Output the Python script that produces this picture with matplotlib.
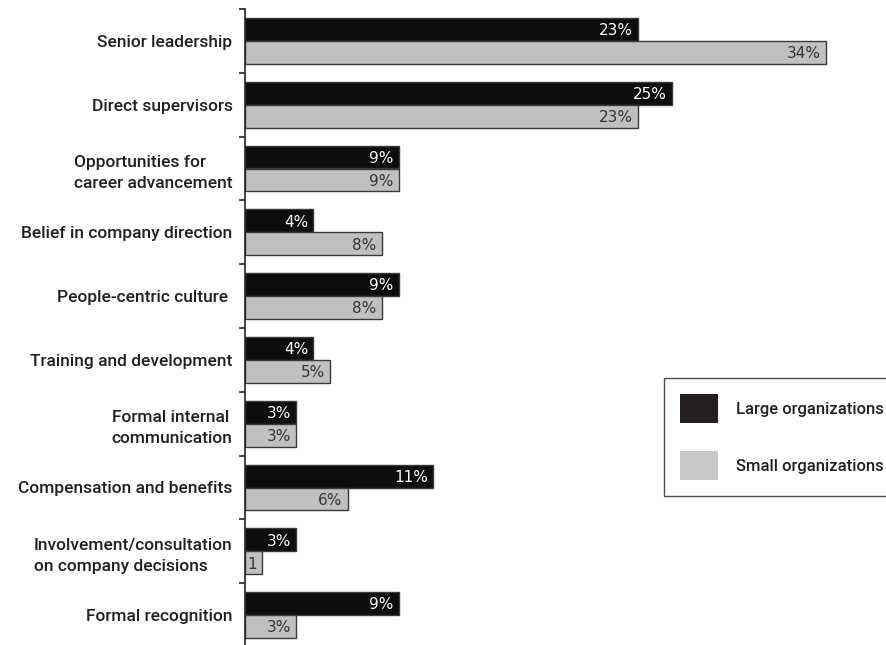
import matplotlib
matplotlib.use("Agg")
import matplotlib.pyplot as plt
from matplotlib.patches import Patch
from matplotlib.ticker import FixedLocator

categories = [
    "Senior leadership",
    "Direct supervisors",
    "Opportunities for\ncareer advancement",
    "Belief in company direction",
    "People-centric culture ",
    "Training and development",
    "Formal internal\ncommunication",
    "Compensation and benefits",
    "Involvement/consultation\non company decisions",
    "Formal recognition",
]
large_vals = [23, 25, 9, 4, 9, 4, 3, 11, 3, 9]
small_vals = [34, 23, 9, 8, 8, 5, 3, 6, 1, 3]
large_labels = ["23%", "25%", "9%", "4%", "9%", "4%", "3%", "11%", "3%", "9%"]
small_labels = ["34%", "23%", "9%", "8%", "8%", "5%", "3%", "6%", "1", "3%"]
series_names = ["Large organizations", "Small organizations"]

W, H = 886, 645
fig = plt.figure(figsize=(W / 100, H / 100), dpi=100)
ax = fig.add_axes([245 / W, 1 - 647 / H, (W - 245) / W, 638 / H])

px_per_unit = 17.09
ax.set_xlim(0, (W - 245) / px_per_unit)
ax.set_ylim(len(categories) - 0.5, -0.5)

bh = 0.36
pos = list(range(len(categories)))
black = "#0d0d0d"
gray = "#c0c0c0"
edge = "#3a3a3a"
ax.barh([p - bh / 2 for p in pos], large_vals, height=bh, color=black,
        edgecolor=edge, linewidth=1.0)
ax.barh([p + bh / 2 for p in pos], small_vals, height=bh, color=gray,
        edgecolor=edge, linewidth=1.0)

label_font = dict(family="DejaVu Sans", fontsize=11)
off = 5 / px_per_unit
for p, v, lab in zip(pos, large_vals, large_labels):
    ax.text(v - off, p - bh / 2 + 0.02, lab, ha="right", va="center",
            color="white", **label_font)
for p, v, lab in zip(pos, small_vals, small_labels):
    ax.text(v - off, p + bh / 2 + 0.02, lab, ha="right", va="center",
            color="#333333", **label_font)

for s in ["top", "right", "bottom"]:
    ax.spines[s].set_visible(False)
ax.spines["left"].set_linewidth(1.2)
ax.spines["left"].set_color("#222222")
ax.xaxis.set_visible(False)

cat_font = dict(family=["Roboto", "Liberation Sans"], size=12.5, weight="medium")
ax.set_yticks(pos)
ax.set_yticklabels(categories, color="#231f20", multialignment="left",
                   linespacing=1.5, **cat_font)
ax.tick_params(axis="y", which="major", length=0, pad=9)
ax.yaxis.set_minor_locator(FixedLocator([p - 0.5 for p in pos] + [len(pos) - 0.5]))
ax.tick_params(axis="y", which="minor", length=4, width=1.2, color="#222222",
               direction="out")

handles = [Patch(facecolor="#231f20", edgecolor="none"),
           Patch(facecolor="#c8c8c8", edgecolor="none")]
fsz = 12.0
fs = fsz * 100 / 72
hh = (29 / fs - 0.245) / 0.65
leg_font = dict(cat_font, size=fsz)
leg = fig.legend(handles, series_names, loc="upper left",
                 bbox_to_anchor=(664 / W, 1 - 378 / H),
                 bbox_transform=fig.transFigure,
                 prop=leg_font,
                 handlelength=38 / fs, handleheight=hh,
                 handletextpad=18 / fs, labelspacing=28 / fs,
                 borderpad=16 / fs, borderaxespad=0, frameon=True,
                 fancybox=False)
leg.get_frame().set_edgecolor("#222222")
leg.get_frame().set_linewidth(1.0)
for t in leg.get_texts():
    t.set_color("#231f20")

fig.savefig("out.png", dpi=100)
